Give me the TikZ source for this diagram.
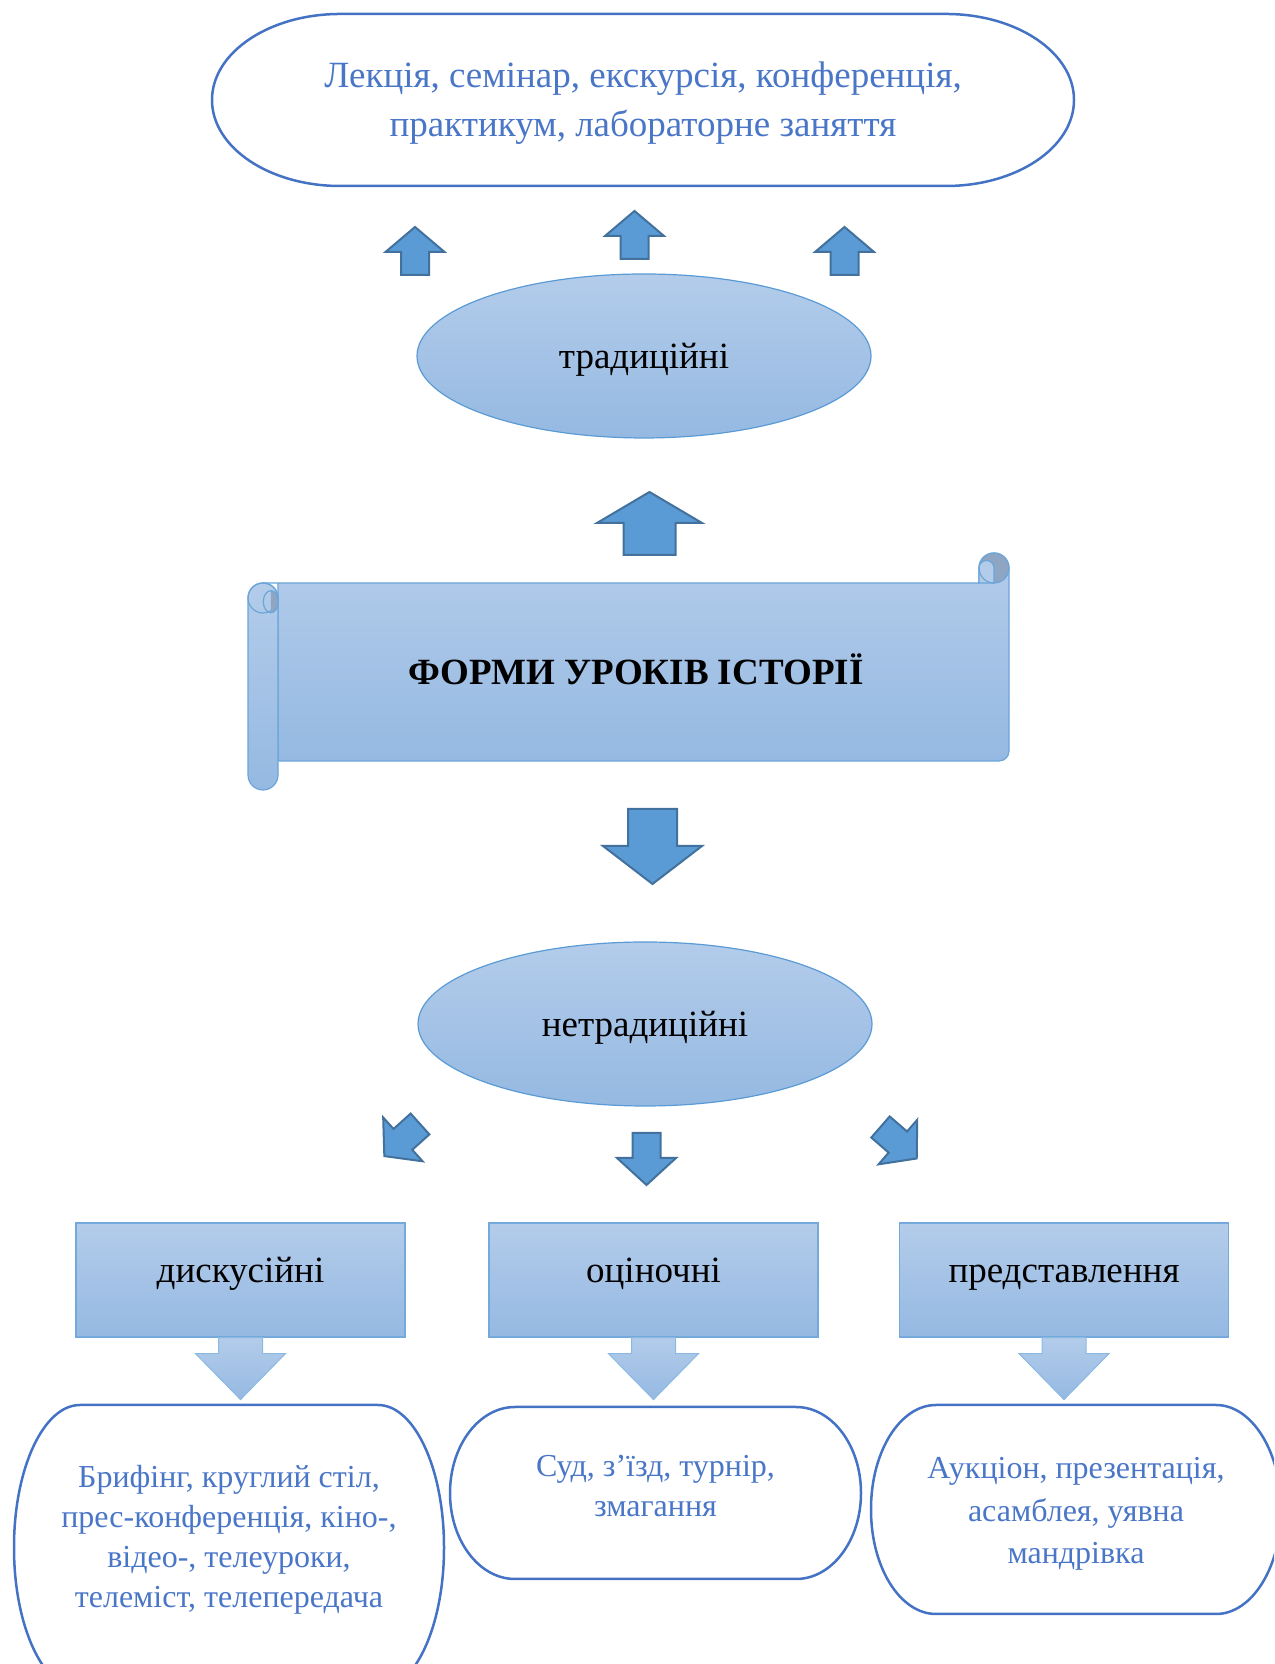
\documentclass[tikz,border=0pt]{standalone}
\usepackage{fontspec}
\setmainfont{Liberation Serif}
\usetikzlibrary{shapes.geometric}

\definecolor{paleblue}{HTML}{B3CCEA}
\definecolor{midblue}{HTML}{95B9E2}
\definecolor{edgeblue}{HTML}{5B9BD5}
\definecolor{arrowfill}{HTML}{5B9BD5}
\definecolor{arrowedge}{HTML}{41719C}
\definecolor{frameblue}{HTML}{4472C4}
\definecolor{curlgray}{HTML}{8EA5C3}
\definecolor{textblue}{HTML}{4A76C8}

\newcommand{\labelfont}{\fontsize{37}{49}\selectfont}
\newcommand{\smallfont}{\fontsize{32}{40}\selectfont}

% block arrow: style, tail, rotation, head width, stem width, stem length, head length
\newcommand{\blockarrow}[7]{%
  \draw[#1, shift={#2}, rotate=#3]
    (-#5/2,0) -- (#5/2,0) -- (#5/2,#6) -- (#4/2,#6) -- (0,#6+#7)
    -- (-#4/2,#6) -- (-#5/2,#6) -- cycle;}

% frame with elliptic corners round a node
\newcommand{\ovalframe}[3]{%
  \draw[frameline] ([xshift=#2]#1.north west) -- ([xshift=-#2]#1.north east)
    arc[start angle=90, end angle=0, x radius=#2, y radius=#3]
    -- ([yshift=#3]#1.south east)
    arc[start angle=0, end angle=-90, x radius=#2, y radius=#3]
    -- ([xshift=#2]#1.south west)
    arc[start angle=270, end angle=180, x radius=#2, y radius=#3]
    -- ([yshift=-#3]#1.north west)
    arc[start angle=180, end angle=90, x radius=#2, y radius=#3] -- cycle;}

\tikzset{
  bluefill/.style={top color=paleblue, bottom color=midblue},
  oval/.style={ellipse, bluefill, draw=edgeblue, line width=1.2, minimum width=454, minimum height=164, inner sep=0, font=\labelfont, text height=26pt, text depth=0pt},
  catbox/.style={rectangle, bluefill, draw=edgeblue!85, line width=1.2, minimum width=329, minimum height=114, inner sep=0, font=\labelfont, text height=26pt, text depth=20pt},
  framebox/.style={rectangle, inner sep=0, outer sep=0},
  frameline/.style={draw=frameblue, line width=2.5},
  bluetext/.style={text=textblue, align=center},
  solidarrow/.style={fill=arrowfill, draw=arrowedge, line width=2},
  softarrow/.style={bluefill, draw=edgeblue!70, line width=1},
  scrollline/.style={draw=edgeblue!90, line width=1.2},
}

\begin{document}
\begin{tikzpicture}[x=1pt, y=1pt]
  \useasboundingbox (0,0) rectangle (1274,1664);
  \clip (0,0) rectangle (1274,1664);

  % traditional forms
  \node[framebox, minimum width=862, minimum height=172] (classic) at (643,1564) {};
  \ovalframe{classic}{128}{86}
  \node[bluetext, font=\labelfont] (classictext) at (643,1561)
    {Лекція, семінар, екскурсія, конференція,\\ практикум, лабораторне заняття};

  \foreach \x/\y in {415/1389, 634.5/1405, 844.5/1389}{
    \blockarrow{solidarrow}{(\x,\y)}{0}{59}{28}{23}{25}
  }

  \node[oval] (trad) at (644,1308) {традиційні};

  \blockarrow{solidarrow}{(649.5,1109)}{0}{105}{52}{32}{31}

  % the scroll
  \path[bluefill, scrollline] (263,1081) -- (979,1081) -- (979,1096)
    arc[start angle=180, end angle=0, radius=15] -- (1009,913)
    arc[start angle=0, end angle=-90, radius=10] -- (278,903) -- (278,1081) -- cycle;
  \fill[curlgray] (994,1096) circle (15);
  \path[fill=paleblue, scrollline] (979,1081) -- (979,1096)
    arc[start angle=180, end angle=0, radius=7.5] -- (994,1081) -- cycle;
  \draw[scrollline] (994,1096) circle (15);
  \path[bluefill, scrollline] (248,1066) -- (248,889)
    arc[start angle=180, end angle=360, radius=15] -- (278,1066)
    arc[start angle=0, end angle=180, radius=15] -- cycle;
  \draw[scrollline] (263,1066) circle (15);
  \fill[curlgray] (270.8,1073.3) arc[start angle=90, end angle=-90, x radius=7.5, y radius=11] -- cycle;
  \draw[scrollline] (270.8,1062.3) ellipse [x radius=7.5, y radius=11];
  \node[font=\labelfont\bfseries] (forms) at (636,995) {ФОРМИ УРОКІВ ІСТОРІЇ};

  \blockarrow{solidarrow}{(652.5,855)}{180}{99}{49}{37}{38}

  % non-traditional forms
  \node[oval] (nontrad) at (645,640) {нетрадиційні};

  \blockarrow{solidarrow}{(420,540)}{132}{59}{28}{23}{25}
  \blockarrow{solidarrow}{(646.5,531)}{180}{59}{28}{25}{27}
  \blockarrow{solidarrow}{(880.5,537)}{-131}{59}{28}{23}{25}

  \node[catbox] (disc) at (240.5,384) {дискусійні};
  \node[catbox] (eval) at (653.5,384) {оціночні};
  \node[catbox] (show) at (1064,384) {представлення};

  \foreach \n in {disc, eval, show}{
    \blockarrow{softarrow}{(\n.south)}{180}{90}{44}{16}{46}
  }

  % examples
  \node[framebox, minimum width=430, minimum height=285] (briefing) at (229,116.5) {};
  \ovalframe{briefing}{66}{142}
  \node[bluetext, font=\smallfont] (briefingtext) at (229,124)
    {Брифінг, круглий стіл,\\ прес-конференція, кіно-,\\ відео-, телеуроки,\\ телеміст, телепередача};

  \node[framebox, minimum width=411, minimum height=172] (court) at (655.5,171) {};
  \ovalframe{court}{65}{86}
  \node[bluetext, font=\smallfont] (courttext) at (655.5,178) {Суд, з’їзд, турнір,\\ змагання};

  \node[framebox, minimum width=410, minimum height=209] (auction) at (1076,154.5) {};
  \ovalframe{auction}{65}{104}
  \node[bluetext, font={\fontsize{32}{42.5}\selectfont}] (auctiontext) at (1076,150)
    {Аукціон, презентація,\\ асамблея, уявна\\ мандрівка};
\end{tikzpicture}
\end{document}
